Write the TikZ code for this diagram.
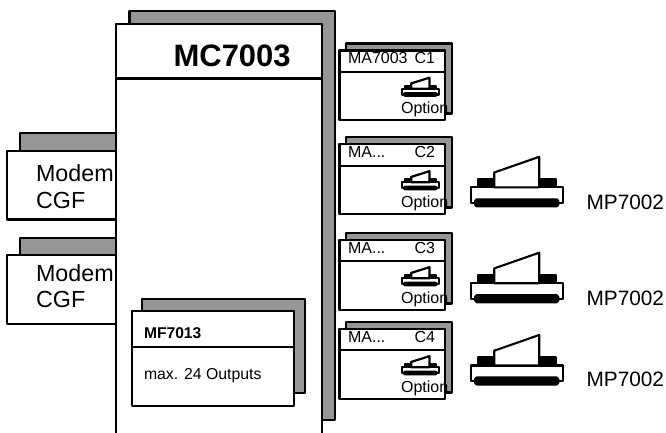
\documentclass[tikz,border=0pt]{standalone}
\usepackage{fontspec}
\setmainfont{Liberation Sans}
\usepackage{xcolor}
\usetikzlibrary{positioning}
\definecolor{shadegray}{HTML}{969696}
\newcommand{\shortname}{MA...}
\tikzset{
  printer/.pic={
    \draw (0,0) rectangle (92,15.7);
    \draw[fill=black, rounded corners=1.5pt] (4.5,12) rectangle (87.5,19);
    \draw[fill=black] (7.5,-8) rectangle (23.5,0);
    \draw[fill=black] (69.5,-8) rectangle (85.5,0);
    \draw[fill=white] (23.5,0) -- (23.5,-14.8) -- (68.5,-30.5) -- (68.5,0) -- cycle;
  }
}
\begin{document}
\begin{tikzpicture}[x=1pt, y=-1pt, line width=2.1pt, line join=round,
  box/.style={draw, fill=white, anchor=north west, inner sep=0pt, outer sep=0pt},
  back/.style={draw, fill=shadegray, anchor=north west, inner sep=0pt, outer sep=0pt},
  label/.style={anchor=base west, inner sep=0pt, font=\fontsize{16}{18}\selectfont},
  big/.style={anchor=base west, inner sep=0pt, font=\fontsize{23.3}{26.5}\selectfont, align=left},
  mptext/.style={anchor=base west, inner sep=0pt, font=\fontsize{20.8}{24}\selectfont}]
\clip (0,0) rectangle (666,432);
% main unit
\node[back, minimum width=205.5pt, minimum height=409pt] (mcback) at (129.5,11) {};
% modems
\node[back, minimum width=96pt, minimum height=30pt] (modemAback) at (20,133) {};
\node[box, minimum width=109pt, minimum height=68.5pt] (modemA) at (7,151) {};
\node[back, minimum width=96pt, minimum height=30pt] (modemBback) at (20,238) {};
\node[box, minimum width=109pt, minimum height=69pt] (modemB) at (7,255) {};
\node[box, minimum width=205.7pt, minimum height=430pt] (mc) at (116,24) {};
\node[box, minimum width=205.7pt, minimum height=54.5pt] (mchead) at (116,24) {};
\node[anchor=base west, inner sep=0pt, font=\fontsize{31}{34}\selectfont\bfseries] (mctitle) at (172.5,66) {MC7003};
\node[big] (modemAtext) at (35,208) {Modem\\CGF};
\node[big] (modemBtext) at (35,307.5) {Modem\\CGF};
% output board
\node[back, minimum width=163pt, minimum height=94pt] (mfback) at (142,299) {};
\node[box, minimum width=162.3pt, minimum height=95pt] (mf) at (131.7,311) {};
\node[box, minimum width=162.3pt, minimum height=36pt] (mfhead) at (131.7,311) {};
\node[label, font=\fontsize{15.6}{18}\selectfont\bfseries] (mftitle) at (143,338) {MF7013};
\node[label, font=\fontsize{15.8}{18}\selectfont] (mftext) at (143,379) {max. 24 Outputs};
% option cards
\foreach \card/\name/\t/\h/\b in {C1/MA7003/50.5/71.7/120, C2/\shortname/144/165.7/214, C3/\shortname/240/260.7/310, C4/\shortname/329/350/399} {
  \node[back, minimum width=106pt, minimum height=(\b-\t+0.5)*1pt] (\card back) at (346,\t-7) {};
  \node[box, minimum width=105.5pt, minimum height=(\b-\t)*1pt] (\card) at (339.5,\t) {};
  \node[box, minimum width=105.5pt, minimum height=(\h-\t)*1pt] (\card head) at (339.5,\t) {};
  \node[label] (\card name) at (347,\t+13) {\name};
  \node[label, anchor=base east] (\card id) at (436,\t+13) {\card};
  \pic[xscale=.405, yscale=.365, line width=2.2pt] at (401.7,\t+38.3) {printer};
  \node[label] (\card opt) at (400,\t+63) {Option};
}
% printers
\pic at (470.7,187.3) {printer};
\pic at (470.7,283.2) {printer};
\pic at (470.7,365.5) {printer};
\node[mptext] (mpA) at (585.5,209.3) {MP7002};
\node[mptext] (mpB) at (585.5,305) {MP7002};
\node[mptext] (mpC) at (585.5,386.7) {MP7002};
\end{tikzpicture}
\end{document}
